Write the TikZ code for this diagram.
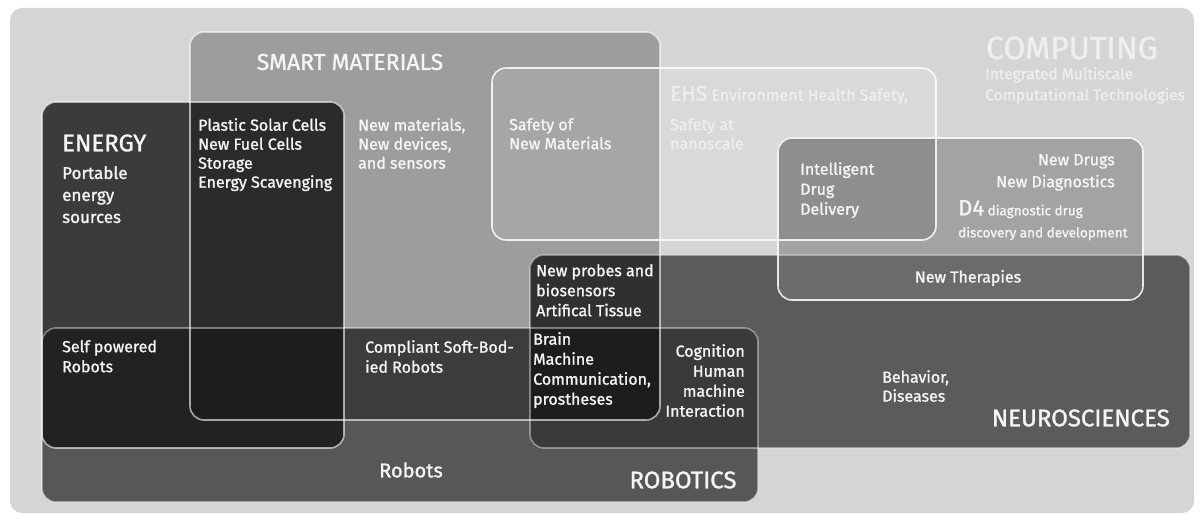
\documentclass[tikz,border=0pt]{standalone}
\usepackage{fontspec}
\setmainfont{Fira Sans}[RawFeature={embolden=1.2}]
\definecolor{bggray}{HTML}{D5D5D5}
\definecolor{smartgray}{HTML}{9D9D9D}
\definecolor{dfourgray}{HTML}{A3A3A3}
\definecolor{dfourehs}{HTML}{8E8E8E}
\definecolor{energygray}{HTML}{3B3B3B}
\definecolor{energysmart}{HTML}{2B2B2B}
\definecolor{neurogray}{HTML}{5B5B5B}
\definecolor{neurosmart}{HTML}{303030}
\definecolor{neurodfour}{HTML}{6B6B6B}
\definecolor{robotgray}{HTML}{575757}
\definecolor{robotenergy}{HTML}{222222}
\definecolor{robotsmart}{HTML}{3C3C3C}
\definecolor{robotneuro}{HTML}{3A3A3A}
\definecolor{robotdeep}{HTML}{1D1D1D}
\definecolor{labelwhite}{HTML}{F5F5F5}
\definecolor{palewhite}{HTML}{EEEEEE}

\begin{document}
\begin{tikzpicture}[x=1pt, y=-1pt,
    area/.style={rounded corners=14pt},
    rim/.style={rounded corners=14pt, draw=white, draw opacity=0.6, line width=1.6pt},
    txt/.style={text=labelwhite, font=\fontsize{16}{20}\selectfont, align=left, anchor=north west, inner sep=0pt},
    title/.style={text=labelwhite, font=\fontsize{24}{26}\selectfont, inner sep=0pt}]
    \useasboundingbox (0,0) rectangle (1201,521);
    \fill[white] (0,0) rectangle (1201,521);
    \fill[bggray, rounded corners=12pt] (10,8) rectangle (1194,513);
    % corners of the areas
    \coordinate (sm1) at (190,32);  \coordinate (sm2) at (660,420);
    \coordinate (eh1) at (492,68);  \coordinate (eh2) at (936,240);
    \coordinate (df1) at (778,138); \coordinate (df2) at (1143,300);
    \coordinate (en1) at (42,102);  \coordinate (en2) at (344,448);
    \coordinate (ne1) at (530,255); \coordinate (ne2) at (1190,448);
    \coordinate (ro1) at (42,328);  \coordinate (ro2) at (758,502);
    % fills and overlaps
    \fill[area, smartgray] (sm1) rectangle (sm2);
    \fill[area, white, opacity=0.1] (eh1) rectangle (eh2);
    \fill[area, dfourgray] (df1) rectangle (df2);
    \begin{scope}
        \clip[area] (eh1) rectangle (eh2);
        \fill[area, dfourehs] (df1) rectangle (df2);
    \end{scope}
    \fill[area, energygray] (en1) rectangle (en2);
    \begin{scope}
        \clip[area] (sm1) rectangle (sm2);
        \fill[area, energysmart] (en1) rectangle (en2);
    \end{scope}
    \fill[area, neurogray] (ne1) rectangle (ne2);
    \begin{scope}
        \clip[area] (sm1) rectangle (sm2);
        \fill[area, neurosmart] (ne1) rectangle (ne2);
    \end{scope}
    \begin{scope}
        \clip[area] (df1) rectangle (df2);
        \fill[area, neurodfour] (ne1) rectangle (ne2);
    \end{scope}
    \fill[area, robotgray] (ro1) rectangle (ro2);
    \begin{scope}
        \clip[area] (ro1) rectangle (ro2);
        \fill[area, robotsmart] (sm1) rectangle (sm2);
        \fill[area, robotneuro] (ne1) rectangle (ne2);
        \fill[area, robotenergy] (en1) rectangle (en2);
        \begin{scope}
            \clip[area] (sm1) rectangle (sm2);
            \fill[area, robotdeep] (ne1) rectangle (ne2);
            \fill[area, robotdeep] (en1) rectangle (en2);
        \end{scope}
    \end{scope}
    % outlines
    \draw[rim] (sm1) rectangle (sm2);
    \draw[rim] (en1) rectangle (en2);
    \draw[rim, draw opacity=0.85] (eh1) rectangle (eh2);
    \draw[rim, draw opacity=0.85] (df1) rectangle (df2);
    \draw[rim, draw opacity=0.4] (ne1) rectangle (ne2);
    \draw[rim, draw opacity=0.4] (ro1) rectangle (ro2);
    % labels
    \node[title, font=\fontsize{23}{26}\selectfont] (smart) at (350,62) {SMART MATERIALS};
    \node[title, anchor=west] (energy) at (62,143) {ENERGY};
    \node[txt, font=\fontsize{17}{22}\selectfont] (portable) at (62,166) {Portable\\energy\\sources};
    \node[txt, font=\fontsize{16}{19}\selectfont] (plastic) at (198,118) {Plastic Solar Cells\\New Fuel Cells\\Storage\\Energy Scavenging};
    \node[txt, font=\fontsize{16}{19}\selectfont] (newmat) at (358,118) {New materials,\\New devices,\\and sensors};
    \node[txt, font=\fontsize{16}{19}\selectfont] (safemat) at (509,118) {Safety of\\New Materials};
    \node[txt, text=palewhite, anchor=west, font=\fontsize{16}{16}\selectfont] (ehs) at (670,95) {{\fontsize{21}{20}\selectfont EHS} Environment Health Safety,};
    \node[txt, text=palewhite, font=\fontsize{16}{19}\selectfont] (safenano) at (670,118) {Safety at\\nanoscale};
    \node[title, text=palewhite, font=\fontsize{32}{34}\selectfont] (computing) at (1072,48) {COMPUTING};
    \node[txt, text=palewhite, font=\fontsize{15.5}{21}\selectfont] (multiscale) at (985,67) {Integrated Multiscale\\Computational Technologies};
    \node[txt] (drugdel) at (800,162) {Intelligent\\Drug\\Delivery};
    \node[txt, anchor=north east, align=right, font=\fontsize{16}{22}\selectfont] (newdrugs) at (1115,154) {New Drugs\\New Diagnostics};
    \node[txt, font=\fontsize{13.5}{22}\selectfont] (dfour) at (958,200) {{\fontsize{22}{22}\selectfont D4} diagnostic drug\\discovery and development};
    \node[txt, anchor=center] (therapies) at (968,278) {New Therapies};
    \node[txt] (probes) at (536,264) {New probes and\\biosensors\\Artifical Tissue};
    \node[txt] (selfpow) at (62,340) {Self powered\\Robots};
    \node[txt] (compliant) at (365,340) {Compliant Soft-Bod-\\ied Robots};
    \node[txt] (brain) at (533,332) {Brain\\Machine\\Communication,\\prostheses};
    \node[txt, anchor=north east, align=right] (cognition) at (745,344) {Cognition\\Human\\machine\\Interaction};
    \node[txt, font=\fontsize{16}{19}\selectfont] (behavior) at (882,370) {Behavior,\\Diseases};
    \node[title, anchor=east] (neuro) at (1170,418) {NEUROSCIENCES};
    \node[title, font=\fontsize{20}{22}\selectfont] (robots) at (411,470) {Robots};
    \node[title] (robotics) at (683,480) {ROBOTICS};
\end{tikzpicture}
\end{document}
